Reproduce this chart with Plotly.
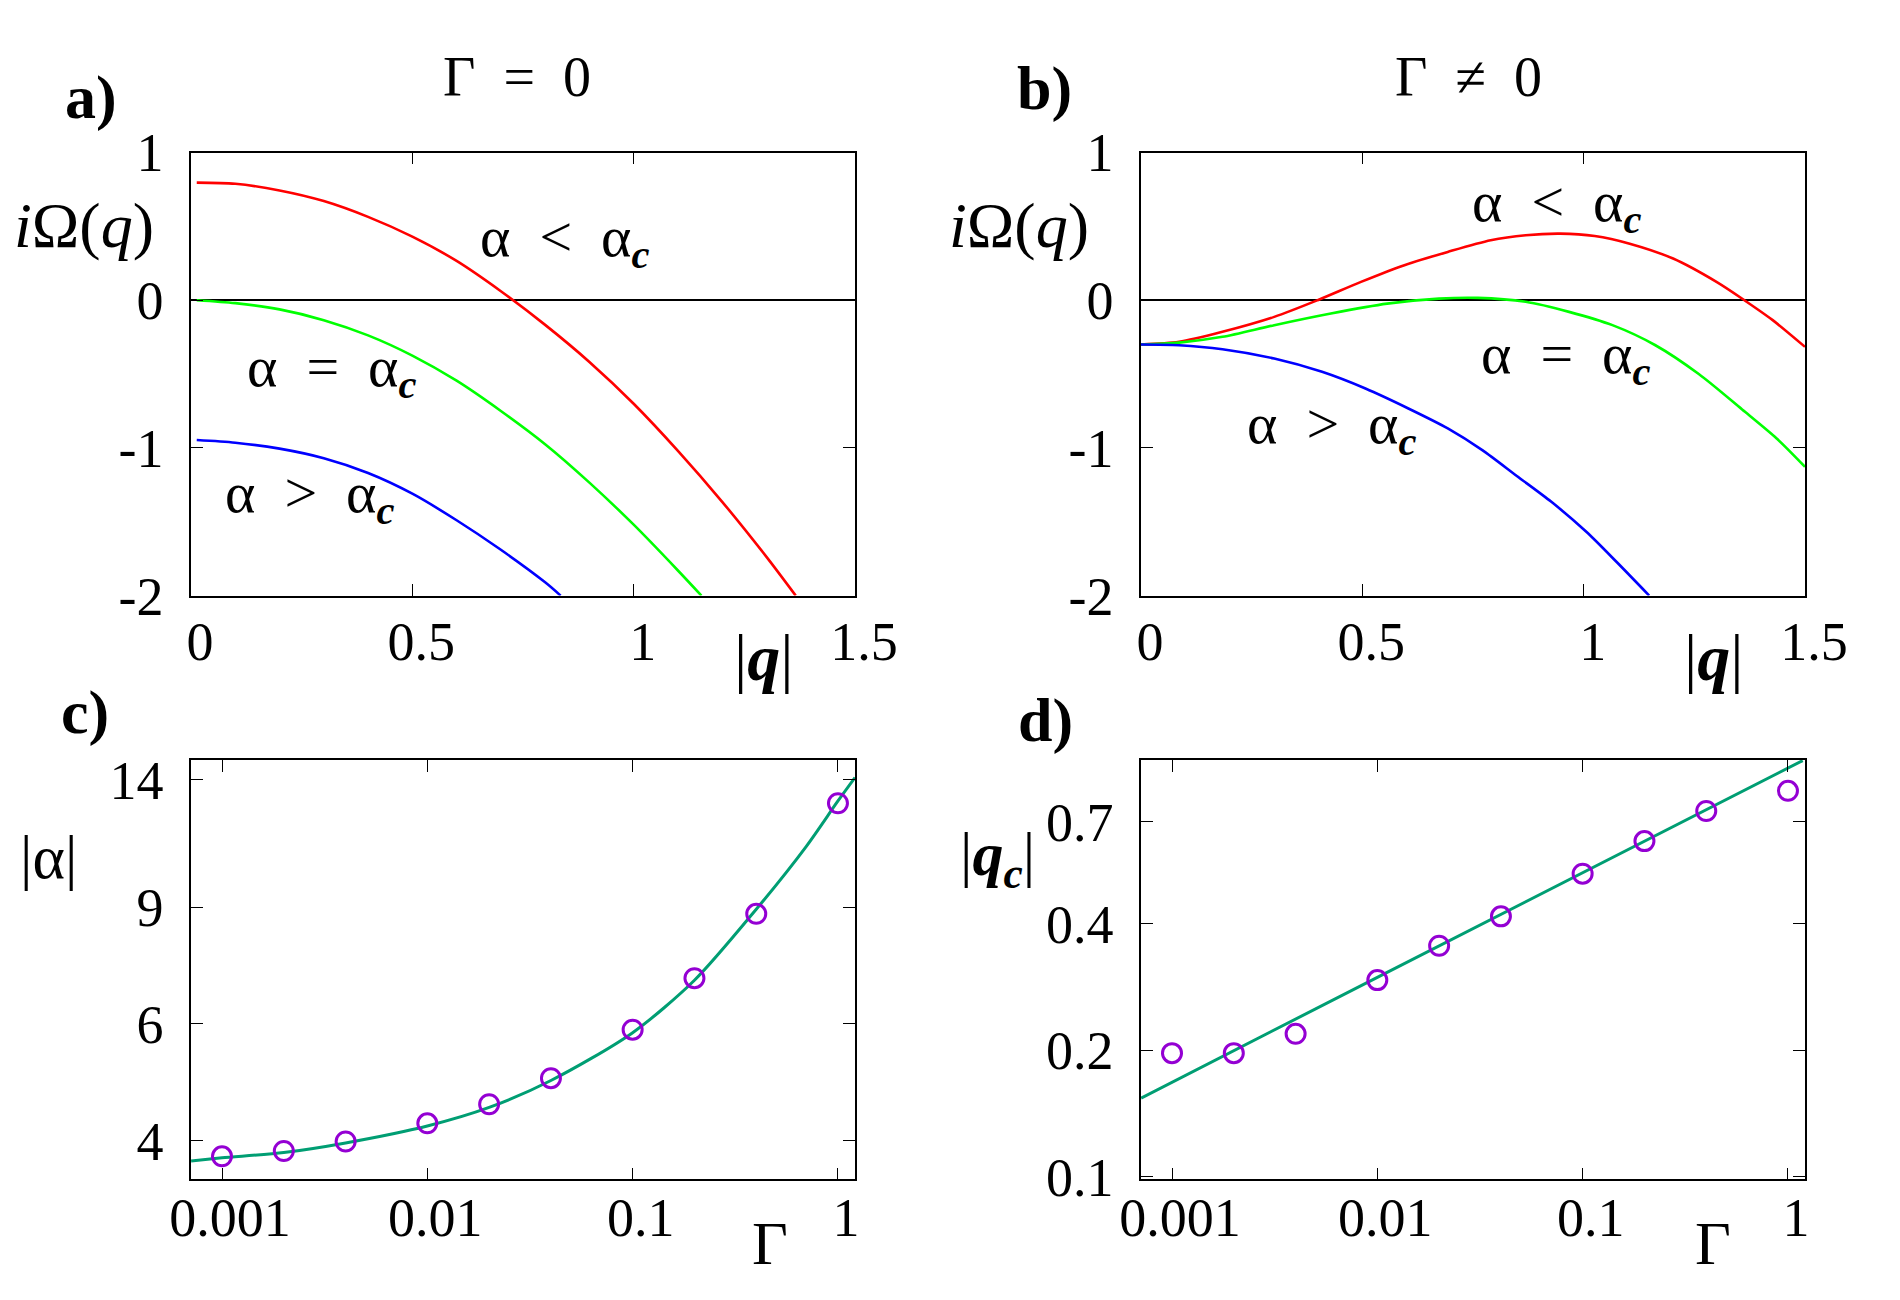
import plotly.graph_objects as go

W, H = 1900, 1300
FONT = "Liberation Serif"

# ---------------- data ----------------
# panel a (Gamma = 0)
red_a_q = [0.013, 0.1, 0.2, 0.3, 0.4, 0.5, 0.6, 0.7, 0.8, 0.9, 1.0, 1.1, 1.2, 1.3, 1.366]
red_a_y = [0.796, 0.788, 0.743, 0.671, 0.564, 0.43, 0.266, 0.061, -0.167, -0.418, -0.701, -1.02, -1.365, -1.738, -2.0]
green_a_q = [0.013, 0.1, 0.2, 0.3, 0.4, 0.5, 0.6, 0.7, 0.8, 0.9, 1.0, 1.1, 1.153]
green_a_y = [0.0, -0.02, -0.062, -0.135, -0.238, -0.375, -0.545, -0.75, -0.975, -1.235, -1.52, -1.83, -2.0]
blue_a_q = [0.013, 0.1, 0.2, 0.3, 0.4, 0.5, 0.6, 0.7, 0.8, 0.835]
blue_a_y = [-0.947, -0.965, -1.005, -1.07, -1.17, -1.31, -1.49, -1.69, -1.91, -2.0]

# panel b (Gamma != 0)
red_b_q = [0.0, 0.086, 0.184, 0.301, 0.399, 0.497, 0.595, 0.693, 0.79, 0.869, 0.947, 1.025, 1.104, 1.202, 1.3, 1.363, 1.427, 1.5]
red_b_y = [-0.30, -0.282, -0.214, -0.113, 0.0, 0.124, 0.237, 0.327, 0.406, 0.44, 0.451, 0.435, 0.383, 0.282, 0.124, 0.0, -0.135, -0.316]
green_b_q = [0.0, 0.086, 0.184, 0.301, 0.429, 0.556, 0.673, 0.761, 0.869, 0.967, 1.065, 1.162, 1.26, 1.358, 1.436, 1.5]
green_b_y = [-0.30, -0.287, -0.248, -0.169, -0.09, -0.023, 0.011, 0.016, -0.011, -0.079, -0.169, -0.305, -0.50, -0.74, -0.936, -1.128]
blue_b_q = [0.0, 0.086, 0.184, 0.301, 0.409, 0.507, 0.604, 0.693, 0.771, 0.849, 0.927, 1.006, 1.074, 1.148]
blue_b_y = [-0.30, -0.305, -0.332, -0.395, -0.485, -0.598, -0.733, -0.868, -1.015, -1.19, -1.365, -1.568, -1.771, -2.0]

# panel c
gamma_pts = [0.001, 0.002, 0.004, 0.01, 0.02, 0.04, 0.1, 0.2, 0.4, 1.0]
alpha_pts = [3.79, 3.86, 3.99, 4.25, 4.54, 4.97, 5.88, 7.03, 8.79, 12.9]
gamma_fit_c = [0.000707, 0.001, 0.002, 0.004, 0.01, 0.02, 0.04, 0.1, 0.2, 0.4, 0.7, 1.0, 1.21]
alpha_fit = [3.73, 3.77, 3.84, 3.97, 4.21, 4.49, 4.93, 5.82, 6.98, 8.93, 11.1, 13.0, 14.1]

# panel d
qc_pts = [0.197, 0.197, 0.219, 0.294, 0.355, 0.417, 0.527, 0.630, 0.743, 0.830]
gamma_fit_d = [0.000707, 0.01, 1.18]
qc_fit = [0.154, 0.2985, 0.98]

# ticks
q_ticks = [0, 0.5, 1, 1.5]
q_ticktext = ["0", "0.5", "1", "1.5"]
om_ticks = [1, 0, -1, -2]
om_ticktext = ["1", "0", "-1", "-2"]
g_ticks = [0.001, 0.01, 0.1, 1]
g_ticktext = ["0.001", "0.01", "0.1", "1"]
alpha_ticks = [4, 6, 9, 14]
alpha_ticktext = ["4", "6", "9", "14"]
qc_ticks = [0.1, 0.2, 0.4, 0.7]
qc_ticktext = ["0.1", "0.2", "0.4", "0.7"]

RED, GREEN, BLUE = "#ff0000", "#00ff00", "#0000ff"
PURPLE, TEAL = "#9400d3", "#009e73"

fig = go.Figure()

def line(x, y, color, xa, ya, width=2.6):
    fig.add_trace(go.Scatter(x=x, y=y, mode="lines",
                             line=dict(color=color, width=width, shape="spline", smoothing=0.8),
                             xaxis=xa, yaxis=ya, showlegend=False, hoverinfo="skip"))

line(red_a_q, red_a_y, RED, "x", "y")
line(green_a_q, green_a_y, GREEN, "x", "y")
line(blue_a_q, blue_a_y, BLUE, "x", "y")
line(red_b_q, red_b_y, RED, "x2", "y2")
line(green_b_q, green_b_y, GREEN, "x2", "y2")
line(blue_b_q, blue_b_y, BLUE, "x2", "y2")

line(gamma_fit_c, alpha_fit, TEAL, "x3", "y3", 3)
fig.add_trace(go.Scatter(x=gamma_pts, y=alpha_pts, mode="markers", xaxis="x3", yaxis="y3",
                         marker=dict(symbol="circle-open", size=19, color=PURPLE, line=dict(width=3, color=PURPLE)),
                         showlegend=False))
line(gamma_fit_d, qc_fit, TEAL, "x4", "y4", 3)
fig.add_trace(go.Scatter(x=gamma_pts, y=qc_pts, mode="markers", xaxis="x4", yaxis="y4",
                         marker=dict(symbol="circle-open", size=19, color=PURPLE, line=dict(width=3, color=PURPLE)),
                         showlegend=False))

TF = dict(family=FONT, size=54, color="black")
common = dict(showgrid=False, showline=True, linecolor="black", linewidth=1.5, mirror="ticks",
              ticks="inside", tickcolor="black", tickwidth=1.2, tickfont=TF, automargin=False, ticklen=12)

xa = [191 / W, 855 / W]
xb = [1141 / W, 1805 / W]
ytop = [1 - 595.6 / H, 1 - 152.5 / H]
ybot = [1 - 1179.3 / H, 1 - 759.8 / H]

def xq(dom, anchor):
    return dict(common, domain=dom, anchor=anchor, range=[0, 1.5], tickvals=q_ticks, ticktext=q_ticktext,
                zeroline=False, ticklabelstandoff=-2, ticklabelshift=9)

def yom(dom, anchor):
    return dict(common, domain=dom, anchor=anchor, range=[-2, 1], tickvals=om_ticks, ticktext=om_ticktext,
                zeroline=True, zerolinecolor="black", zerolinewidth=1.5, ticklabelstandoff=15)

def xg(dom, anchor):
    return dict(common, domain=dom, anchor=anchor, type="log", range=[-3.151, 0.083], tickvals=g_ticks,
                ticktext=g_ticktext, ticklabelstandoff=-10, ticklabelshift=8)

fig.update_layout(
    width=W, height=H, margin=dict(l=0, r=0, t=0, b=0, pad=0, autoexpand=False),
    paper_bgcolor="white", plot_bgcolor="white",
    xaxis=xq(xa, "y"), yaxis=yom(ytop, "x"),
    xaxis2=xq(xb, "y2"), yaxis2=yom(ytop, "x2"),
    xaxis3=xg(xa, "y3"),
    yaxis3=dict(common, domain=ybot, anchor="x3", type="log", range=[0.544, 1.176], tickvals=alpha_ticks,
                ticktext=alpha_ticktext, ticklabelstandoff=15),
    xaxis4=xg(xb, "y4"),
    yaxis4=dict(common, domain=ybot, anchor="x4", type="log", range=[-1.006, -0.007], tickvals=qc_ticks,
                ticktext=qc_ticktext, ticklabelstandoff=15),
)

def px(x):
    return x / W

def py(y):
    return 1 - y / H

def ann(text, x, y, size=50):
    fig.add_annotation(text=text, x=px(x), y=py(y), xref="paper", yref="paper", showarrow=False,
                       xanchor="center", yanchor="middle", font=dict(family=FONT, size=size, color="black"))

SP = "\u2002"

# panel labels
ann("<b>a)</b>", 91, 97, 62)
ann("<b>b)</b>", 1044, 88, 62)
ann("<b>c)</b>", 85, 712, 62)
ann("<b>d)</b>", 1045, 720, 62)

# titles
ann(f"Γ{SP}={SP}0", 517, 77, 56)
ann(f"Γ{SP}≠{SP}0", 1468, 77, 56)

# y labels
ann("<i>i</i>Ω(<i>q</i>)", 84, 225, 64)
ann("<i>i</i>Ω(<i>q</i>)", 1019, 225, 64)
ann("|α|", 48, 857, 62)
ann("|<b><i>q</i></b><sub><b><i>c</i></b></sub>|", 997, 858, 62)

# x labels
ann("|<b><i>q</i></b>|", 763, 657, 66)
ann("|<b><i>q</i></b>|", 1713, 657, 66)
ann("Γ", 770, 1243, 62)
ann("Γ", 1713, 1243, 62)

# curve labels
def clabel(op, x, y):
    ann(f"α{SP}{op}{SP}α<sub><b><i>c</i></b></sub>", x, y, 58)

clabel("&lt;", 565, 240)
clabel("=", 332, 370)
clabel("&gt;", 310, 497)
clabel("&lt;", 1557, 205)
clabel("=", 1566, 357)
clabel("&gt;", 1332, 427)

fig.write_html("out.html", config={"displayModeBar": False},
               post_script="document.body.style.margin='0px';")
